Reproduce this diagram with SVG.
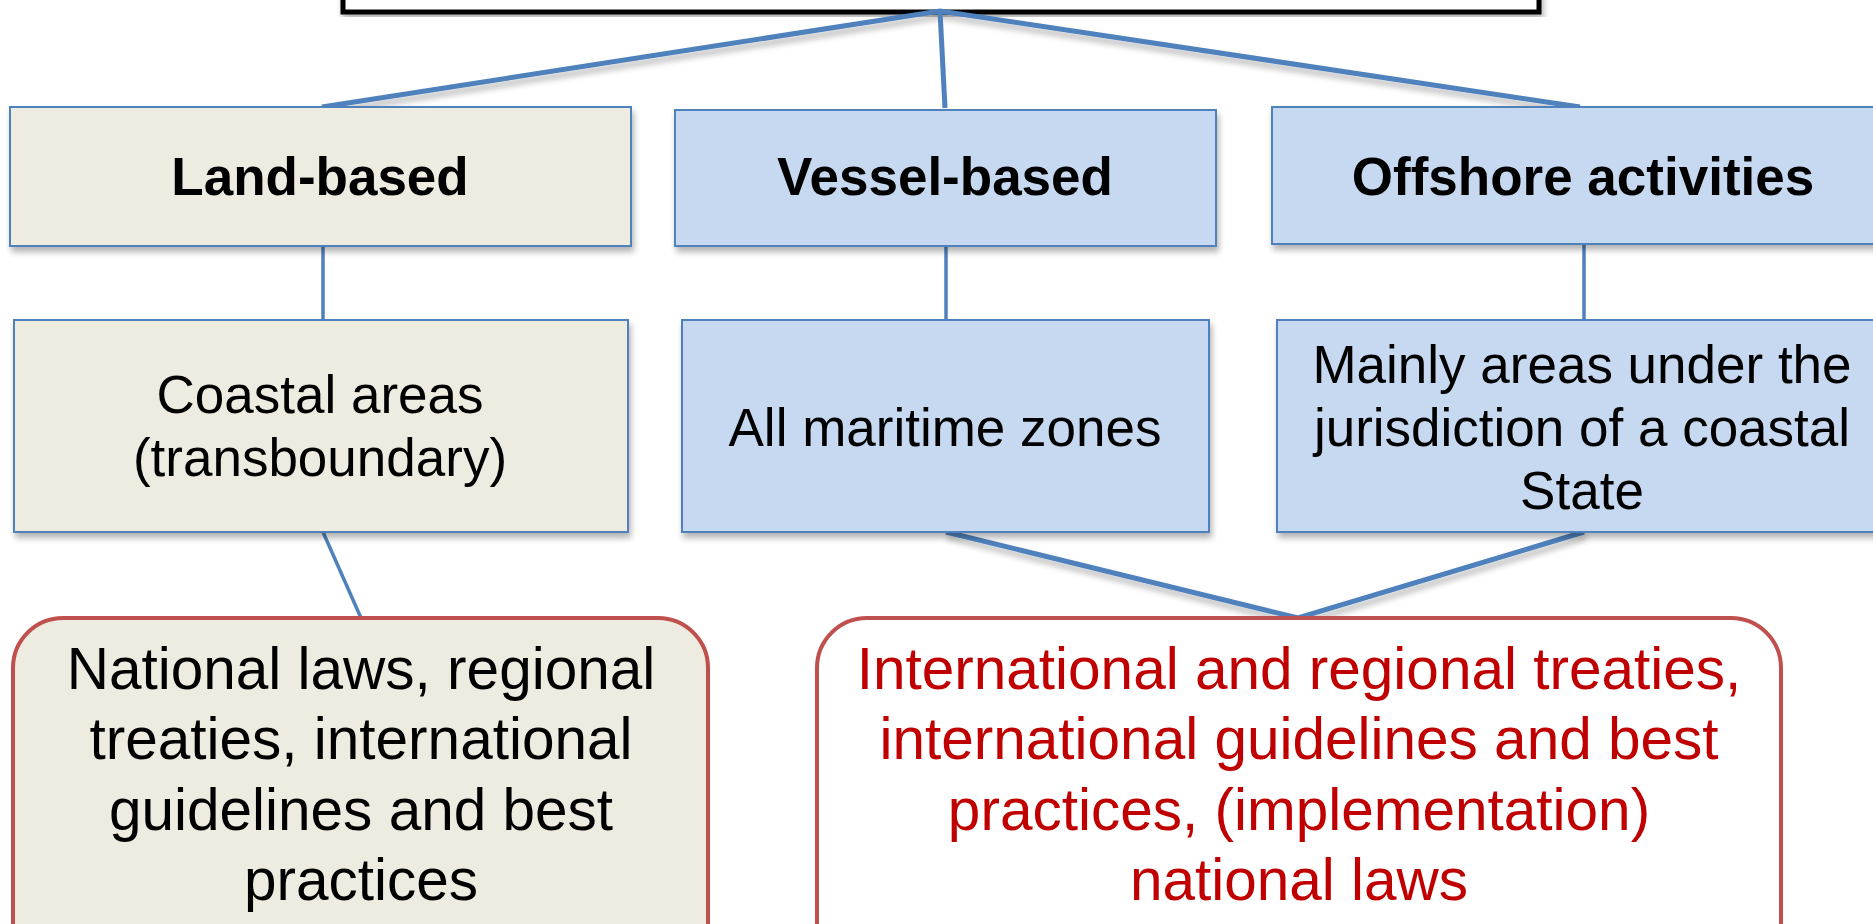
<svg xmlns="http://www.w3.org/2000/svg" width="1873" height="924" viewBox="0 0 1873 924">
<defs>
<filter id="sh" x="-5%" y="-5%" width="110%" height="120%">
<feGaussianBlur in="SourceAlpha" stdDeviation="3"/>
<feOffset dx="2" dy="5" result="b"/>
<feComponentTransfer><feFuncA type="linear" slope="0.3"/></feComponentTransfer>
<feMerge><feMergeNode/><feMergeNode in="SourceGraphic"/></feMerge>
</filter>
</defs>
<style>
.beige{fill:#EEECE1;stroke:#4F81BD;stroke-width:2}
.blue{fill:#C6D9F1;stroke:#4F81BD;stroke-width:2}
.rb{fill:#EEECE1;stroke:#C0504D;stroke-width:4}
.rw{fill:#FFFFFF;stroke:#C0504D;stroke-width:4}
.con{stroke:#4F81BD;stroke-width:5;fill:none;stroke-linejoin:miter}
.thin{stroke:#4F81BD;stroke-width:3.5;fill:none}
text{font-family:"Liberation Sans",Arial,sans-serif;text-anchor:middle;fill:#000}
.h{font-size:53px;font-weight:bold}
.t{font-size:53px}
.b{font-size:58.5px}
.red{fill:#C00000}
</style>
<g id="top">
<rect x="343" y="-20" width="1196" height="32" fill="#FFFFFF" stroke="#000" stroke-width="5" filter="url(#sh)"/>
</g>
<g id="connectors">
<polyline class="con" points="322,107 940,11 1580,107" filter="url(#sh)"/>
<line class="con" x1="940" y1="11" x2="945" y2="108" stroke-width="4"/>
<line class="thin" x1="323" y1="246" x2="323" y2="320"/>
<line class="thin" x1="946" y1="246" x2="946" y2="320"/>
<line class="thin" x1="1584" y1="244" x2="1584" y2="320"/>
<line class="thin" x1="323" y1="532" x2="361" y2="618"/>
<polyline class="con" points="946,532 1298,618 1584,532" filter="url(#sh)"/>
</g>
<g id="land-based">
<rect class="beige" x="10" y="107" width="621" height="139" filter="url(#sh)"/>
<text class="h" x="320" y="195">Land-based</text>
</g>
<g id="vessel-based">
<rect class="blue" x="675" y="110" width="541" height="136" filter="url(#sh)"/>
<text class="h" x="945" y="195">Vessel-based</text>
</g>
<g id="offshore">
<rect class="blue" x="1272" y="107" width="640" height="137" filter="url(#sh)"/>
<text class="h" x="1583" y="195">Offshore activities</text>
</g>
<g id="coastal">
<rect class="beige" x="14" y="320" width="614" height="212" filter="url(#sh)"/>
<text class="t" x="320" y="413">Coastal areas</text>
<text class="t" x="320" y="476">(transboundary)</text>
</g>
<g id="maritime">
<rect class="blue" x="682" y="320" width="527" height="212" filter="url(#sh)"/>
<text class="t" x="945" y="446">All maritime zones</text>
</g>
<g id="mainly">
<rect class="blue" x="1277" y="320" width="640" height="212" filter="url(#sh)"/>
<text class="t" x="1582" y="383">Mainly areas under the</text>
<text class="t" x="1582" y="446">jurisdiction of a coastal</text>
<text class="t" x="1582" y="509">State</text>
</g>
<g id="national">
<rect class="rb" x="13" y="618" width="695" height="360" rx="50" ry="50"/>
<text class="b" x="361" y="689">National laws, regional</text>
<text class="b" x="361" y="759">treaties, international</text>
<text class="b" x="361" y="830">guidelines and best</text>
<text class="b" x="361" y="900">practices</text>
</g>
<g id="international">
<rect class="rw" x="817" y="618" width="964" height="360" rx="50" ry="50"/>
<text class="b red" x="1299" y="689">International and regional treaties,</text>
<text class="b red" x="1299" y="759">international guidelines and best</text>
<text class="b red" x="1299" y="830">practices, (implementation)</text>
<text class="b red" x="1299" y="900">national laws</text>
</g>
</svg>
